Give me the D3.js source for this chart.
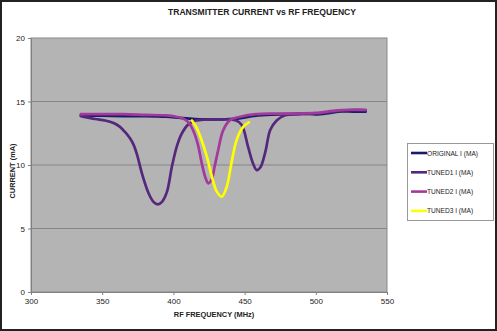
<!DOCTYPE html>
<html>
<head>
<meta charset="utf-8">
<script src="https://cdn.jsdelivr.net/npm/d3@7"></script>
<style>
  html, body { margin: 0; padding: 0; background: #fff; }
  svg { display: block; font-family: "Liberation Sans", Arial, sans-serif; }
</style>
</head>
<body>
<svg id="chart" width="497" height="331"></svg>
<script>
// Transmitter current (mA) against RF frequency (MHz)
const xTicks = [300, 350, 400, 450, 500, 550];
const yTicks = [0, 5, 10, 15, 20];

const originalFreq = [335, 350, 365, 380, 395, 405, 415, 425, 435, 445, 455, 465, 480, 491, 500, 510, 518, 526, 535];
const originalCur  = [13.9, 13.88, 13.85, 13.85, 13.8, 13.7, 13.62, 13.6, 13.6, 13.65, 13.85, 13.95, 14.0, 14.05, 13.98, 14.1, 14.22, 14.2, 14.2];

const tuned1Freq = [335, 345, 352, 358, 362.5, 366, 369.5, 372, 374.5, 378, 382.5, 386, 389, 392, 395.5, 399, 402.5, 405.5, 410.5, 416, 430, 444, 448, 452.5, 456, 458.5, 461, 464.5, 468, 472.5, 478, 490, 505, 520, 535];
const tuned1Cur  = [13.85, 13.62, 13.5, 13.3, 13.0, 12.6, 12.1, 11.6, 10.8, 9.3, 7.8, 7.1, 6.9, 7.1, 7.9, 9.9, 11.5, 12.4, 13.2, 13.5, 13.6, 13.5, 13.15, 11.4, 10.1, 9.6, 9.8, 11.0, 12.75, 13.5, 13.9, 14.0, 14.1, 14.3, 14.3];

const tuned2Freq = [335, 350, 365, 380, 395, 402, 407, 411, 414, 417, 420, 422.5, 424.5, 427, 429, 431.5, 435, 440, 447, 458, 470, 485, 500, 515, 525, 535];
const tuned2Cur  = [14.0, 14.0, 14.0, 13.95, 13.9, 13.8, 13.65, 13.3, 12.7, 11.7, 10.1, 9.0, 8.56, 8.9, 9.9, 11.2, 12.75, 13.55, 13.8, 14.0, 14.05, 14.05, 14.1, 14.3, 14.35, 14.35];

const tuned3Freq = [413, 416, 419, 423.5, 427, 430.5, 434, 437.5, 441, 444.5, 449, 453];
const tuned3Cur  = [13.5, 13.0, 12.2, 10.65, 9.1, 7.9, 7.5, 8.3, 10.3, 12.0, 13.0, 13.35];

const seriesNames  = ["ORIGINAL I (MA)", "TUNED1 I (MA)", "TUNED2 I (MA)", "TUNED3 I (MA)"];
const seriesColors = ["#1c1a6b", "#56287d", "#a2399c", "#ffff00"];

const series = [
  { freq: originalFreq, cur: originalCur },
  { freq: tuned1Freq, cur: tuned1Cur },
  { freq: tuned2Freq, cur: tuned2Cur },
  { freq: tuned3Freq, cur: tuned3Cur }
].map((s, i) => ({
  name: seriesNames[i],
  color: seriesColors[i],
  points: s.freq.map((f, j) => ({ f, c: s.cur[j] }))
}));

const svg = d3.select("#chart");
const W = 497, H = 331;
const plot = { left: 31, top: 38, right: 387, bottom: 292 };

// outer chart frame
svg.append("rect")
  .attr("x", 1).attr("y", 1).attr("width", W - 2).attr("height", H - 2)
  .attr("fill", "#fff").attr("stroke", "#222").attr("stroke-width", 2);

const x = d3.scaleLinear().domain([300, 550]).range([plot.left, plot.right]);
const y = d3.scaleLinear().domain([0, 20]).range([plot.bottom, plot.top]);

// plot area
svg.append("rect")
  .attr("x", plot.left).attr("y", plot.top)
  .attr("width", plot.right - plot.left).attr("height", plot.bottom - plot.top)
  .attr("fill", "#b4b4b4").attr("stroke", "#8a8a8a").attr("stroke-width", 1);

// horizontal gridlines
svg.append("g").selectAll("line")
  .data(yTicks.filter(t => t > 0 && t < 20))
  .join("line")
  .attr("x1", plot.left).attr("x2", plot.right)
  .attr("y1", d => y(d)).attr("y2", d => y(d))
  .attr("stroke", "#858585").attr("stroke-width", 1);

// axes
const xAxis = svg.append("g")
  .attr("transform", `translate(0,${plot.bottom})`)
  .call(d3.axisBottom(x).tickValues(xTicks).tickSize(3).tickSizeOuter(0).tickPadding(3));
const yAxis = svg.append("g")
  .attr("transform", `translate(${plot.left},0)`)
  .call(d3.axisLeft(y).tickValues(yTicks).tickSize(3).tickSizeOuter(0).tickPadding(3));
[xAxis, yAxis].forEach(g => {
  g.select(".domain").attr("stroke", "#808080");
  g.selectAll(".tick line").attr("stroke", "#808080");
  g.selectAll("text").attr("font-size", 8).attr("fill", "#222")
    .attr("font-family", "'Liberation Sans', Arial, sans-serif");
});

// series lines
const line = d3.line()
  .x(d => x(d.f)).y(d => y(d.c))
  .curve(d3.curveCatmullRom.alpha(0.5));

svg.append("g").selectAll("path")
  .data(series)
  .join("path")
  .attr("d", d => line(d.points))
  .attr("fill", "none")
  .attr("stroke", d => d.color)
  .attr("stroke-width", 2.7)
  .attr("stroke-linejoin", "round")
  .attr("stroke-linecap", "round");

// titles
svg.append("text")
  .attr("x", 262).attr("y", 15)
  .attr("text-anchor", "middle")
  .attr("font-size", 8.6).attr("font-weight", "bold").attr("fill", "#222")
  .text("TRANSMITTER CURRENT vs RF FREQUENCY");

svg.append("text")
  .attr("x", 214).attr("y", 317)
  .attr("text-anchor", "middle")
  .attr("font-size", 7.4).attr("font-weight", "bold").attr("fill", "#222")
  .text("RF FREQUENCY (MHz)");

svg.append("text")
  .attr("transform", "translate(15,171) rotate(-90)")
  .attr("text-anchor", "middle")
  .attr("font-size", 7.4).attr("font-weight", "bold").attr("fill", "#222")
  .text("CURRENT (mA)");

// legend
const legend = svg.append("g");
legend.append("rect")
  .attr("x", 407.5).attr("y", 143.5).attr("width", 86).attr("height", 77)
  .attr("fill", "#fff").attr("stroke", "#999").attr("stroke-width", 1);

const item = legend.selectAll("g.item")
  .data(series)
  .join("g")
  .attr("class", "item")
  .attr("transform", (d, i) => `translate(0,${153 + i * 19.3})`);
item.append("line")
  .attr("x1", 411).attr("x2", 427).attr("y1", 0).attr("y2", 0)
  .attr("stroke", d => d.color).attr("stroke-width", 2.6);
item.append("text")
  .attr("x", 427).attr("y", 2.5)
  .attr("font-size", 6.6).attr("fill", "#222")
  .text(d => d.name);
</script>
</body>
</html>
